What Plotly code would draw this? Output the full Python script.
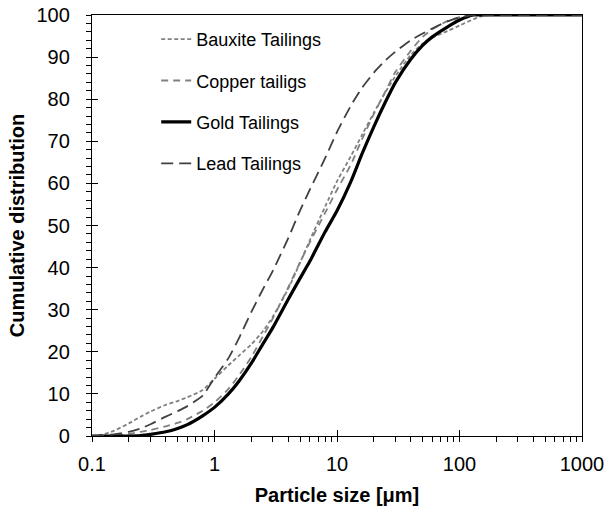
import plotly.graph_objects as go

sizes = [0.1, 0.12, 0.15, 0.2, 0.25, 0.3, 0.4, 0.5, 0.6, 0.8,
         1, 1.3, 1.6, 2, 2.5, 3, 4, 5, 6, 8,
         10, 13, 16, 20, 25, 30, 40, 50, 60, 80,
         100, 130, 160, 200, 300, 500, 1000]

bauxite = [0, 0.3, 1.2, 3.0, 4.6, 5.8, 7.4, 8.3, 9.2, 10.9,
           13.6, 16.8, 19.2, 21.8, 25.0, 28.4, 35.0, 41.2, 46.5, 54.5,
           60.5, 66.5, 71.5, 76.8, 81.8, 85.5, 90.5, 93.2, 94.6, 96.2,
           97.5, 99.0, 99.9, 100, 100, 100, 100]

copper = [0, 0, 0.1, 0.5, 1.0, 1.4, 2.3, 3.1, 4.0, 6.0,
          8.0, 11.2, 14.6, 18.8, 23.8, 28.0, 35.3, 41.3, 46.0, 53.0,
          58.5, 64.5, 70.5, 76.5, 82.0, 86.5, 91.5, 94.8, 96.6, 98.6,
          99.5, 100, 100, 100, 100, 100, 100]

gold = [0, 0, 0, 0, 0.1, 0.4, 1.0, 1.8, 2.7, 4.8,
        6.8, 10.0, 13.2, 17.3, 22.0, 25.8, 32.5, 37.5, 41.5, 48.5,
        53.5, 60.5, 67.0, 73.5, 79.5, 84.0, 89.5, 92.8, 94.8, 97.2,
        98.8, 100, 100, 100, 100, 100, 100]

lead = [0, 0.1, 0.4, 1.0, 1.8, 2.8, 4.6, 5.9, 7.1, 9.6,
        13.8, 18.5, 23.5, 29.5, 35.0, 39.3, 47.0, 53.6, 58.5, 66.0,
        72.2, 78.5, 82.7, 86.3, 89.3, 91.3, 94.0, 95.6, 96.8, 98.5,
        99.4, 100, 100, 100, 100, 100, 100]

names = ["Bauxite Tailings", "Copper tailigs", "Gold Tailings", "Lead Tailings"]
series = [bauxite, copper, gold, lead]
styles = [
    dict(color="#808080", width=1.8, dash="4px,2.5px"),
    dict(color="#808080", width=1.8, dash="7px,5px"),
    dict(color="#000000", width=3.2, dash="solid"),
    dict(color="#404040", width=1.8, dash="12px,6px"),
]

# axis ticks
x_major = [0.1, 1, 10, 100, 1000]
x_major_text = ["0.1", "1", "10", "100", "1000"]
x_minor = [m * d for d in [0.1, 1, 10, 100] for m in range(2, 10)]
y_major = list(range(0, 101, 10))
y_minor = [v for v in range(0, 101, 2) if v % 10 != 0]

FONT = "Arial, Liberation Sans, sans-serif"

fig = go.Figure()
for i, (nm, vals, st) in enumerate(zip(names, series, styles)):
    fig.add_trace(go.Scatter(
        x=sizes, y=vals, mode="lines", name=nm,
        line=dict(color=st["color"], width=st["width"], dash=st["dash"],
                  shape="spline", smoothing=0.6),
        legendgroup="g%d" % i,
    ))

# transparent trace so the overlay axes (inward major ticks) are drawn
fig.add_trace(go.Scatter(x=sizes, y=gold, xaxis="x2", yaxis="y2",
                         mode="lines", line=dict(width=1, color="rgba(0,0,0,0)"),
                         showlegend=False, hoverinfo="skip"))

x_all = x_major + x_minor
x_all_text = x_major_text + [""] * len(x_minor)
y_all = y_major + y_minor
y_all_text = [str(v) for v in y_major] + [""] * len(y_minor)

fig.update_layout(
    width=606, height=506,
    margin=dict(l=92, r=24, t=15, b=70),
    paper_bgcolor="white", plot_bgcolor="white",
    font=dict(family=FONT, size=20, color="black"),
    xaxis=dict(
        type="log", range=[-1, 3], automargin=False,
        tickmode="array", tickvals=x_all, ticktext=x_all_text,
        showgrid=False, zeroline=False,
        showline=True, linecolor="black", linewidth=1.3, mirror=True,
        ticks="outside", ticklen=5, tickwidth=1.2, tickcolor="black",
        ticklabelstandoff=5,
        tickfont=dict(size=20),
        title=dict(text="<b>Particle size [μm]</b>", font=dict(size=20), standoff=16),
    ),
    yaxis=dict(
        range=[0, 100], automargin=False,
        tickmode="array", tickvals=y_all, ticktext=y_all_text,
        showgrid=False, zeroline=False,
        showline=True, linecolor="black", linewidth=1.3, mirror=True,
        ticks="outside", ticklen=5, tickwidth=1.2, tickcolor="black",
        ticklabelstandoff=12,
        tickfont=dict(size=20),
        title=dict(text="<b>Cumulative distribution</b>", font=dict(size=20), standoff=6),
    ),
    xaxis2=dict(type="log", range=[-1, 3], overlaying="x", anchor="y2", automargin=False,
                tickmode="array", tickvals=x_major,
                showgrid=False, zeroline=False, showline=False,
                ticks="inside", ticklen=6, tickwidth=1.3, tickcolor="black",
                showticklabels=False, side="bottom"),
    yaxis2=dict(range=[0, 100], overlaying="y", anchor="x2", automargin=False,
                tickmode="array", tickvals=y_major,
                showgrid=False, zeroline=False, showline=False,
                ticks="inside", ticklen=6, tickwidth=1.3, tickcolor="black",
                showticklabels=False, side="left"),
    legend=dict(
        x=0.131, y=0.986, xanchor="left", yanchor="top",
        bgcolor="rgba(0,0,0,0)", borderwidth=0,
        font=dict(size=18, family=FONT),
        tracegroupgap=15, traceorder="grouped",
    ),
    showlegend=True,
)

fig.write_html("out.html")
